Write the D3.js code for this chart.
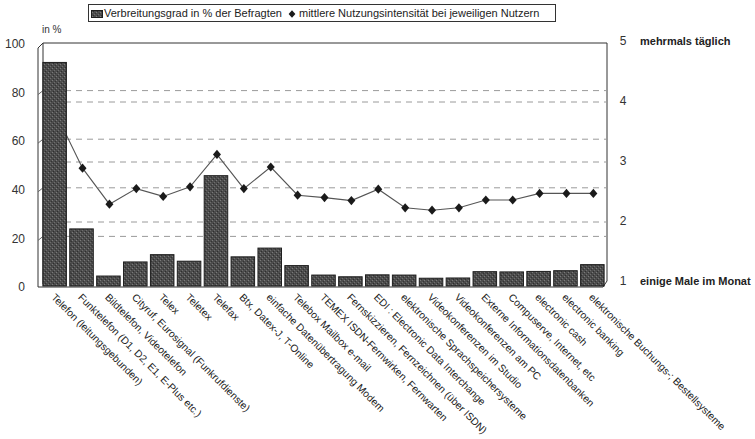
<!DOCTYPE html>
<html>
<head>
<meta charset="utf-8">
<script src="https://cdn.jsdelivr.net/npm/d3@7"></script>
<style>
  html, body { margin: 0; padding: 0; background: #fff; }
  svg { display: block; font-family: "Liberation Sans", Arial, sans-serif; }
</style>
</head>
<body>
<svg id="chart" width="755" height="439"></svg>
<script>
// Services asked about in the survey
const categories = [
  "Telefon (leitungsgebunden)",
  "Funktelefon (D1, D2, E1, E-Plus etc.)",
  "Bildtelefon, Videotelefon",
  "Cityruf, Eurosignal (Funkrufdienste)",
  "Telex",
  "Teletex",
  "Telefax",
  "Btx, Datex-J, T-Online",
  "einfache Datenübertragung Modem",
  "Telebox Mailbox e-mail",
  "TEMEX ISDN-Fernwirken, Fernwarten",
  "Fernskizzieren, Fernzeichnen (über ISDN)",
  "EDI : Electronic Data Interchange",
  "elektronische Sprachspeichersysteme",
  "Videokonferenzen im Studio",
  "Videokonferenzen am PC",
  "Externe Informationsdatenbanken",
  "Compuserve, Internet, etc",
  "electronic cash",
  "electronic banking",
  "elektronische Buchungs-; Bestellsysteme"
];

// Verbreitungsgrad in % der Befragten (left axis)
const verbreitung = [92, 23.5, 4.1, 9.9, 12.9, 10.2, 45.4, 12, 15.6, 8.4, 4.5, 3.8, 4.6, 4.5, 3.2, 3.3, 5.9, 5.8, 6, 6.3, 8.8];

// mittlere Nutzungsintensität bei jeweiligen Nutzern (right axis, 1..5)
const intensitaet = [3.8, 2.88, 2.28, 2.54, 2.41, 2.57, 3.11, 2.54, 2.9, 2.43, 2.39, 2.34, 2.53, 2.22, 2.18, 2.22, 2.35, 2.35, 2.46, 2.46, 2.46];

const leftTicks = [0, 20, 40, 60, 80, 100];
const rightTicks = [1, 2, 3, 4, 5];
const rightTickNames = { 5: "mehrmals täglich", 1: "einige Male im Monat" };
const legendLabels = ["Verbreitungsgrad in % der Befragten", "mittlere Nutzungsintensität bei jeweiligen Nutzern"];

const svg = d3.select("#chart");

const plot = { left: 43, right: 607, top: 43, bottom: 286 };
const depth = 5;

const x = d3.scaleBand()
  .domain(categories)
  .range([plot.left - 2, plot.right - 1])
  .paddingInner(0.125)
  .paddingOuter(0.07);

const yL = d3.scaleLinear().domain([0, 100]).range([plot.bottom, plot.top]);
const yR = d3.scaleLinear().domain([1, 5]).range([281, 41]);

// stippled fill for the bars
const defs = svg.append("defs");
const pat = defs.append("pattern")
  .attr("id", "stipple").attr("patternUnits", "userSpaceOnUse")
  .attr("width", 4).attr("height", 4);
pat.append("rect").attr("width", 4).attr("height", 4).attr("fill", "#4c4c4c");
pat.append("rect").attr("x", 0).attr("y", 0).attr("width", 1).attr("height", 1).attr("fill", "#7a7a7a");
pat.append("rect").attr("x", 2).attr("y", 2).attr("width", 1).attr("height", 1).attr("fill", "#6e6e6e");
pat.append("rect").attr("x", 1).attr("y", 3).attr("width", 1).attr("height", 1).attr("fill", "#2e2e2e");
pat.append("rect").attr("x", 3).attr("y", 1).attr("width", 1).attr("height", 1).attr("fill", "#343434");

// frame: back wall, left wall and floor
const frame = svg.append("g").attr("fill", "none").attr("stroke", "#333").attr("stroke-width", 1);
frame.append("path").attr("d",
  `M${plot.left},${plot.bottom - 2} L${plot.left},${plot.top} L${plot.right},${plot.top} L${plot.right},${plot.bottom - 5}`);
frame.append("path").attr("d",
  `M${plot.left - depth},${plot.top + depth} L${plot.left},${plot.top} M${plot.left - depth},${plot.top + depth} L${plot.left - depth},${plot.bottom + 1} L${plot.right - 4},${plot.bottom + 1} L${plot.right},${plot.bottom - 5}`);

// gridlines for the left axis
svg.append("g").selectAll("line")
  .data(leftTicks.filter(d => d > 0 && d < 100))
  .join("line")
  .attr("x1", plot.left).attr("x2", plot.right)
  .attr("y1", d => yL(d) - 1).attr("y2", d => yL(d) - 1)
  .attr("stroke", "#9a9a9a").attr("stroke-dasharray", "6,5");
// small marks on the left wall
svg.append("g").selectAll("line")
  .data(leftTicks.filter(d => d > 0 && d < 100))
  .join("line")
  .attr("x1", plot.left - depth).attr("x2", plot.left)
  .attr("y1", d => yL(d) + 3).attr("y2", d => yL(d) - 1)
  .attr("stroke", "#666");

// gridlines for the right axis
svg.append("g").selectAll("line")
  .data(rightTicks.filter(d => d > 1 && d < 5))
  .join("line")
  .attr("x1", plot.left).attr("x2", plot.right)
  .attr("y1", d => yR(d) + 1).attr("y2", d => yR(d) + 1)
  .attr("stroke", "#9a9a9a").attr("stroke-dasharray", "6,5");

// intensity line (drawn below the bars)
const cx = d => x(d) + x.bandwidth() / 2;
const points = intensitaet.map((v, i) => ({ v, i, px: cx(categories[i]) + 1, py: yR(v) }));
const lineGen = d3.line().x(d => d.px).y(d => d.py);
svg.append("path").datum(points)
  .attr("d", lineGen).attr("fill", "none").attr("stroke", "#555").attr("stroke-width", 1.1);

// bars
svg.append("g").selectAll("rect")
  .data(verbreitung)
  .join("rect")
  .attr("x", (d, i) => x(categories[i]))
  .attr("y", d => yL(d))
  .attr("width", x.bandwidth())
  .attr("height", d => yL(0) - yL(d))
  .attr("fill", "url(#stipple)")
  .attr("stroke", "#1e1e1e").attr("stroke-width", 1);

// diamond markers (those not hidden behind a bar)
const diamondPath = "M0,-4.6 L4,0 L0,4.6 L-4,0 Z";
svg.append("g").selectAll("path")
  .data(points.filter(p => p.py < yL(verbreitung[p.i]) - 3))
  .join("path")
  .attr("transform", d => `translate(${d.px},${d.py})`)
  .attr("d", diamondPath)
  .attr("fill", "#1a1a1a");

// left axis labels
svg.append("g").selectAll("text")
  .data(leftTicks)
  .join("text")
  .attr("x", 25).attr("y", d => yL(d) + 1)
  .attr("dy", "0.35em")
  .attr("text-anchor", "end")
  .attr("font-size", 12).attr("fill", "#333")
  .text(d => d);
svg.append("text").attr("x", 42).attr("y", 33)
  .attr("font-size", 10).attr("fill", "#333").text("in %");

// right axis labels
const rg = svg.append("g").selectAll("g").data(rightTicks).join("g");
rg.append("text")
  .attr("x", 623).attr("y", d => yR(d))
  .attr("dy", "0.35em").attr("text-anchor", "middle")
  .attr("font-size", 12).attr("fill", "#333")
  .text(d => d);
rg.filter(d => rightTickNames[d]).append("text")
  .attr("x", 640).attr("y", d => yR(d))
  .attr("dy", "0.35em")
  .attr("font-size", 11).attr("font-weight", "bold").attr("fill", "#222")
  .text(d => rightTickNames[d]);

// category labels, rotated
svg.append("g").selectAll("text")
  .data(categories)
  .join("text")
  .attr("transform", d => `translate(${cx(d) - 4},${298}) rotate(45)`)
  .attr("font-size", 10.3).attr("fill", "#222")
  .text(d => d);

// legend
const lg = svg.append("g");
lg.append("rect").attr("x", 88.5).attr("y", 4.5).attr("width", 467).attr("height", 17)
  .attr("fill", "#fff").attr("stroke", "#333");
lg.append("rect").attr("x", 91.5).attr("y", 10.5).attr("width", 11).attr("height", 7)
  .attr("fill", "url(#stipple)").attr("stroke", "#1e1e1e");
lg.append("text").attr("x", 104).attr("y", 17)
  .attr("font-size", 11).attr("fill", "#222").text(legendLabels[0]);
lg.append("path").attr("transform", "translate(292,14)")
  .attr("d", "M0,-3.8 L3.4,0 L0,3.8 L-3.4,0 Z").attr("fill", "#1a1a1a");
lg.append("text").attr("x", 299).attr("y", 17)
  .attr("font-size", 11).attr("fill", "#222").text(legendLabels[1]);
</script>
</body>
</html>
